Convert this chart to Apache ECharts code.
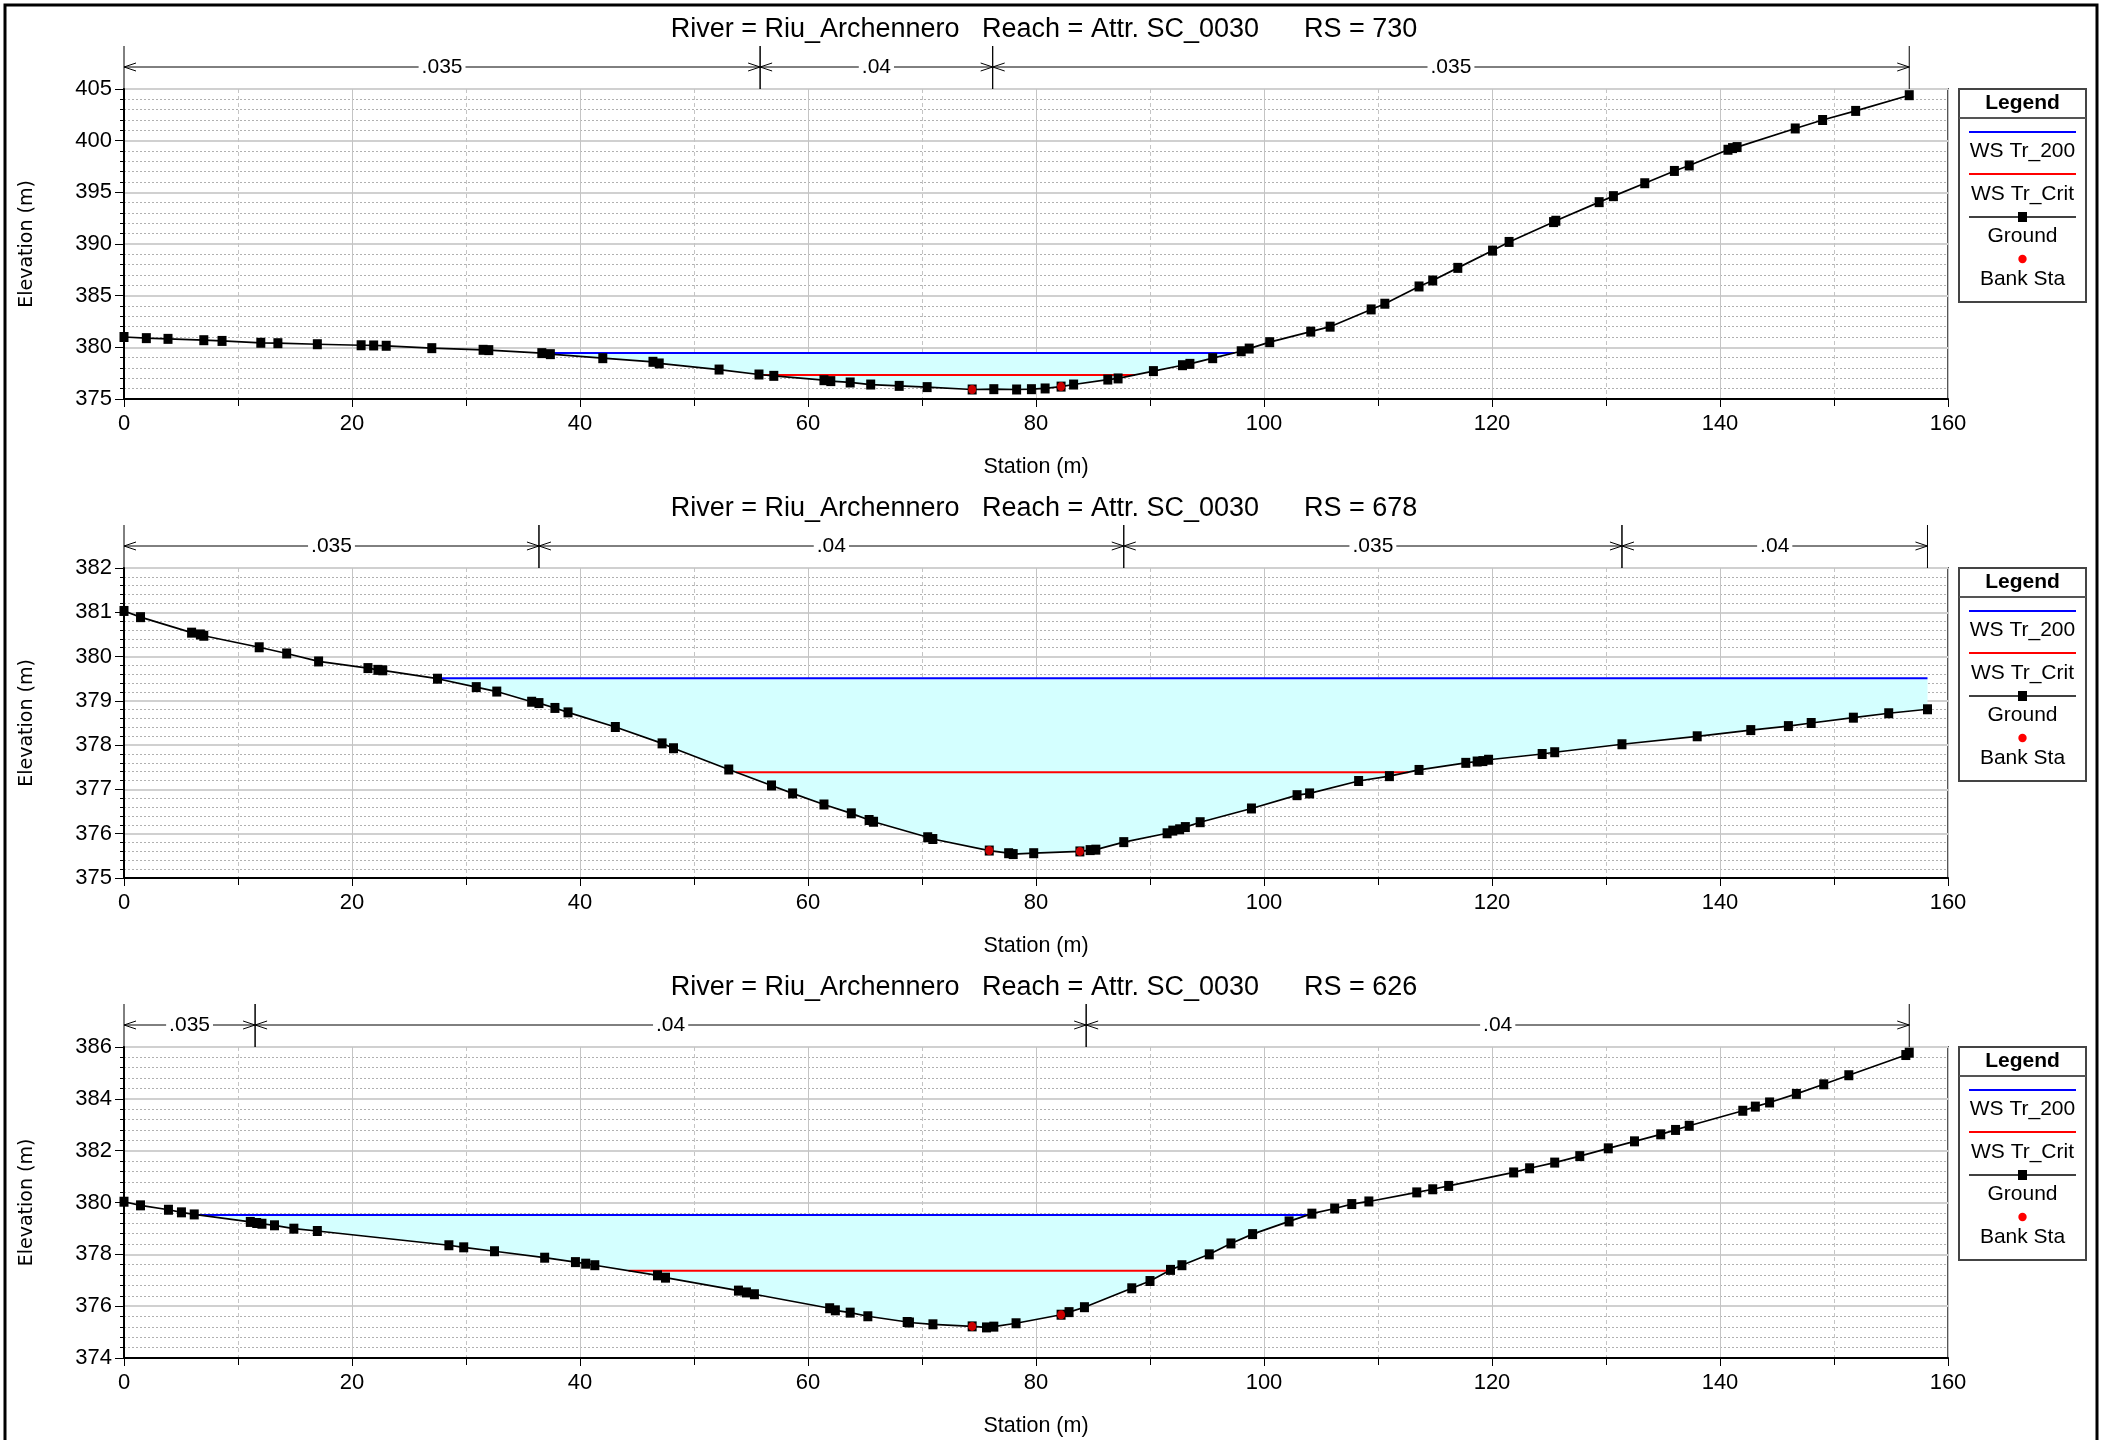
<!DOCTYPE html>
<html><head><meta charset="utf-8">
<script src="https://cdn.jsdelivr.net/npm/echarts@6/dist/echarts.min.js"></script>
<style>html,body{margin:0;padding:0;background:#fff}#c{width:2112px;height:1440px}</style>
</head><body><div id="c"></div><script>
// ---------- DATA ----------
const chartTitles = [
  'River = Riu_Archennero   Reach = Attr. SC_0030      RS = 730',
  'River = Riu_Archennero   Reach = Attr. SC_0030      RS = 678',
  'River = Riu_Archennero   Reach = Attr. SC_0030      RS = 626'
];
const xTicks = { min: 0, max: 160, interval: 20 };
const yRanges = [
  { min: 375, max: 405, interval: 5 },
  { min: 375, max: 382, interval: 1 },
  { min: 374, max: 386, interval: 2 }
];

const ground1Sta = [0,1.96,3.86,7.0,8.6,12.0,13.5,16.96,20.8,21.9,23.0,27.0,31.5,32.0,36.65,37.4,42.0,46.4,46.95,52.2,55.7,57.0,61.4,62.0,63.7,65.5,68.0,70.45,74.4,76.3,78.3,79.6,80.8,82.2,83.3,86.3,87.2,90.3,92.85,93.5,95.5,98.0,98.7,100.5,104.1,105.8,109.4,110.6,113.6,114.8,117.0,120.05,121.5,125.4,125.6,129.4,130.65,133.4,136.0,137.3,140.7,141.1,141.5,146.6,149.0,151.9,156.6];
const ground1Elev = [381.0,380.89,380.82,380.69,380.62,380.44,380.4,380.3,380.2,380.18,380.15,379.92,379.76,379.73,379.44,379.34,378.95,378.6,378.44,377.85,377.37,377.24,376.82,376.73,376.6,376.4,376.27,376.15,375.92,375.95,375.92,375.95,376.02,376.2,376.4,376.88,376.99,377.7,378.27,378.4,378.95,379.62,379.88,380.5,381.52,382.0,383.67,384.22,385.89,386.47,387.69,389.36,390.2,392.12,392.25,394.05,394.63,395.88,397.07,397.6,399.12,399.28,399.38,401.18,402.0,402.88,404.4];

const ground2Sta = [0,1.45,5.93,6.7,7.0,11.86,14.27,17.07,21.4,22.27,22.7,27.5,30.9,32.7,35.76,36.4,37.8,38.95,43.1,47.2,48.2,53.05,56.8,58.65,61.4,63.8,65.36,65.75,70.5,70.95,75.9,77.6,78.0,79.8,83.85,84.75,85.25,87.7,91.5,92.0,92.6,93.1,94.4,98.9,102.9,104.0,108.3,111.0,113.6,117.7,118.7,119.2,119.7,124.4,125.5,131.4,138.0,142.7,146.0,148.0,151.7,154.8,158.2];
const ground2Elev = [381.03,380.89,380.54,380.5,380.47,380.21,380.07,379.89,379.74,379.7,379.69,379.5,379.31,379.21,378.98,378.95,378.84,378.74,378.41,378.04,377.93,377.45,377.09,376.91,376.66,376.46,376.31,376.27,375.92,375.88,375.62,375.56,375.54,375.56,375.6,375.63,375.64,375.81,376.01,376.07,376.1,376.15,376.26,376.57,376.87,376.91,377.19,377.3,377.44,377.6,377.63,377.64,377.67,377.8,377.84,378.02,378.2,378.34,378.43,378.5,378.62,378.72,378.81];

const ground3Sta = [0,1.45,3.9,5.04,6.16,11.08,11.64,12.1,13.2,14.9,16.96,28.5,29.8,32.5,36.9,39.6,40.5,41.3,46.8,47.5,53.9,54.6,55.3,61.9,62.4,63.7,65.25,68.7,68.9,70.96,74.4,75.66,76.3,78.25,82.2,82.9,84.25,88.4,90.0,91.8,92.8,95.2,97.1,99.0,102.2,104.2,106.2,107.7,109.2,113.4,114.8,116.2,121.9,123.3,125.5,127.7,130.2,132.5,134.8,136.1,137.3,142.0,143.1,144.35,146.7,149.1,151.3,156.3,156.6];
const ground3Elev = [380.03,379.89,379.72,379.62,379.54,379.25,379.21,379.18,379.12,378.99,378.9,378.35,378.27,378.12,377.87,377.7,377.64,377.58,377.19,377.1,376.6,376.53,376.46,375.92,375.84,375.75,375.61,375.39,375.37,375.3,375.22,375.18,375.21,375.34,375.67,375.77,375.96,376.69,376.97,377.4,377.58,378.0,378.42,378.78,379.27,379.57,379.77,379.94,380.04,380.39,380.51,380.64,381.16,381.32,381.54,381.79,382.09,382.36,382.63,382.8,382.96,383.54,383.7,383.86,384.19,384.56,384.91,385.69,385.78];

const wsTr200 = [379.46, 379.51, 379.52];
const wsTrCrit = [377.33, 377.39, 377.37];

const bankSta = [[74.4, 82.2], [75.9, 83.85], [74.4, 82.2]];
const bankElev = [[375.92, 376.2], [375.62, 375.6], [375.22, 375.67]];

const nBounds = [[0, 55.8, 76.2, 156.6], [0, 36.4, 87.7, 131.4, 158.2], [0, 11.5, 84.4, 156.6]];
const nValues = [['.035', '.04', '.035'], ['.035', '.04', '.035', '.04'], ['.035', '.04', '.04']];

const legendNames = ['WS Tr_200', 'WS Tr_Crit', 'Ground', 'Bank Sta'];

// ---------- LAYOUT / STYLE ----------
const FONT = '"Liberation Sans", Arial, Helvetica, sans-serif';
const FONT_Y = '"DejaVu Sans", Verdana, sans-serif';
const gridTops = [89, 568, 1047];
const gridHeights = [310, 310, 311];
const gridLeft = 124, gridWidth = 1824;
const FILL = '#d4ffff';

const grounds = [[ground1Sta, ground1Elev], [ground2Sta, ground2Elev], [ground3Sta, ground3Elev]];

function crossing(sta, elev, level) {
  let im = 0;
  for (let k = 1; k < elev.length; k++) if (elev[k] < elev[im]) im = k;
  let i = im; while (i > 0 && elev[i - 1] < level) i--;
  let j = im; while (j < elev.length - 1 && elev[j + 1] < level) j++;
  const xl = i > 0 ? sta[i - 1] + (level - elev[i - 1]) / (elev[i] - elev[i - 1]) * (sta[i] - sta[i - 1]) : sta[0];
  const xr = j < elev.length - 1 ? sta[j] + (level - elev[j]) / (elev[j + 1] - elev[j]) * (sta[j + 1] - sta[j]) : sta[sta.length - 1];
  return { i, j, xl, xr };
}
function waterPoly(sta, elev, ws) {
  const c = crossing(sta, elev, ws);
  const pts = [[c.xl, ws]];
  for (let k = c.i; k <= c.j; k++) pts.push([sta[k], elev[k]]);
  pts.push([c.xr, ws]);
  return pts;
}

const grid = [], xAxis = [], yAxis = [], series = [], graphic = [];

for (let g = 0; g < 3; g++) {
  const [sta, elev] = grounds[g];
  const yr = yRanges[g];
  grid.push({ left: gridLeft, top: gridTops[g], width: gridWidth, height: gridHeights[g],
    show: true, borderColor: '#555', borderWidth: 2, backgroundColor: '#fff' });
  xAxis.push({
    gridIndex: g, type: 'value', min: xTicks.min, max: xTicks.max, interval: xTicks.interval,
    name: 'Station (m)', nameLocation: 'middle', nameGap: 57,
    nameTextStyle: { fontFamily: FONT, fontSize: 21.5, color: '#000' },
    axisLine: { show: true, onZero: false, lineStyle: { color: '#000', width: 2 } },
    axisTick: { show: true, length: 8, lineStyle: { color: '#000', width: 1 } },
    minorTick: { show: true, splitNumber: 2, length: 7, lineStyle: { color: '#000', width: 1 } },
    axisLabel: { fontFamily: FONT, fontSize: 22, color: '#000', margin: 14 },
    splitLine: { show: true, lineStyle: { color: '#c4c4c4', width: 1 } },
    minorSplitLine: { show: true, lineStyle: { color: '#c4c4c4', width: 1, type: [4, 3] } }
  });
  yAxis.push({
    gridIndex: g, type: 'value', min: yr.min, max: yr.max, interval: yr.interval,
    name: 'Elevation (m)', nameLocation: 'middle', nameGap: 87, nameRotate: 90,
    nameTextStyle: { fontFamily: FONT_Y, fontSize: 19, color: '#000' },
    axisLine: { show: true, onZero: false, lineStyle: { color: '#000', width: 2 } },
    axisTick: { show: true, length: 9, lineStyle: { color: '#000', width: 1 } },
    minorTick: { show: true, splitNumber: 5, length: 4, lineStyle: { color: '#000', width: 1 } },
    axisLabel: { fontFamily: FONT, fontSize: 22, color: '#000', margin: 12 },
    splitLine: { show: true, lineStyle: { color: '#d0d0d0', width: 2 } },
    minorSplitLine: { show: true, lineStyle: { color: '#b0b0b0', width: 1, type: [2, 2] } }
  });

  // water fill
  const poly = waterPoly(sta, elev, wsTr200[g]);
  series.push({
    type: 'custom', xAxisIndex: g, yAxisIndex: g, silent: true, z: 1,
    data: [[poly[0][0], poly[0][1]]],
    renderItem: (params, api) => ({
      type: 'polygon',
      shape: { points: poly.map(p => api.coord(p)) },
      style: { fill: FILL, stroke: null }
    })
  });
  // WS Tr_200
  const cw = crossing(sta, elev, wsTr200[g]);
  series.push({ type: 'line', name: legendNames[0], xAxisIndex: g, yAxisIndex: g, z: 3, silent: true,
    symbol: 'none', data: [[cw.xl, wsTr200[g]], [cw.xr, wsTr200[g]]],
    lineStyle: { color: '#0000ff', width: 2 } });
  // WS Tr_Crit
  const cc = crossing(sta, elev, wsTrCrit[g]);
  series.push({ type: 'line', name: legendNames[1], xAxisIndex: g, yAxisIndex: g, z: 3, silent: true,
    symbol: 'none', data: [[cc.xl, wsTrCrit[g]], [cc.xr, wsTrCrit[g]]],
    lineStyle: { color: '#ff0000', width: 2 } });
  // Ground
  series.push({ type: 'line', name: legendNames[2], xAxisIndex: g, yAxisIndex: g, z: 4, silent: true,
    symbol: 'rect', symbolSize: [9, 10], showAllSymbol: true,
    data: sta.map((s, k) => [s, elev[k]]),
    itemStyle: { color: '#000' }, lineStyle: { color: '#000', width: 1.7 } });
  // Bank Sta
  series.push({ type: 'scatter', name: legendNames[3], xAxisIndex: g, yAxisIndex: g, z: 5, silent: true,
    symbol: 'circle', symbolSize: [8, 9],
    data: bankSta[g].map((s, k) => [s, bankElev[g][k]]),
    itemStyle: { color: '#ff0000' } });
  // Manning n annotation above plot
  const segs = [];
  for (let k = 0; k < nBounds[g].length - 1; k++) segs.push([nBounds[g][k], nBounds[g][k + 1], yr.max]);
  const labels = nValues[g];
  series.push({
    type: 'custom', xAxisIndex: g, yAxisIndex: g, silent: true, z: 6, clip: false,
    encode: { x: [0, 1], y: 2 },
    data: segs,
    renderItem: (params, api) => {
      const a = api.coord([api.value(0), api.value(2)]);
      const b = api.coord([api.value(1), api.value(2)]);
      const top = a[1], ly = top - 22, vt = top - 43;
      const st = { stroke: '#000', lineWidth: 1, fill: null };
      return { type: 'group', children: [
        { type: 'line', shape: { x1: a[0], y1: ly, x2: b[0], y2: ly }, style: st },
        { type: 'line', shape: { x1: a[0], y1: vt, x2: a[0], y2: top }, style: st },
        { type: 'line', shape: { x1: b[0], y1: vt, x2: b[0], y2: top }, style: st },
        { type: 'polyline', shape: { points: [[a[0] + 12, ly - 4], [a[0], ly], [a[0] + 12, ly + 4]] }, style: st },
        { type: 'polyline', shape: { points: [[b[0] - 12, ly - 4], [b[0], ly], [b[0] - 12, ly + 4]] }, style: st },
        { type: 'text', x: (a[0] + b[0]) / 2, y: ly,
          style: { text: labels[params.dataIndex], fill: '#000', font: '21px ' + FONT,
            align: 'center', verticalAlign: 'middle', textAlign: 'center', textVerticalAlign: 'middle',
            backgroundColor: '#fff', padding: [0, 3] } }
      ] };
    }
  });

  // title
  const T = gridTops[g];
  graphic.push({ type: 'text', x: 1044, y: T - 59, z: 10,
    style: { text: chartTitles[g], fill: '#000', font: '27px ' + FONT,
      align: 'center', verticalAlign: 'middle', textAlign: 'center', textVerticalAlign: 'middle' } });
  // legend box
  const LX = 1959, LW = 127, CX = LX + LW / 2;
  const txt = (t, y, bold) => ({ type: 'text', x: CX, y: T + y, z: 10,
    style: { text: t, fill: '#000', font: (bold ? 'bold ' : '') + '21px ' + FONT,
      align: 'center', verticalAlign: 'middle', textAlign: 'center', textVerticalAlign: 'middle' } });
  graphic.push({ type: 'rect', x: LX, y: T, shape: { width: LW, height: 213 }, z: 9,
    style: { fill: '#fff', stroke: '#444', lineWidth: 2 } });
  graphic.push(txt('Legend', 14, true));
  graphic.push({ type: 'line', shape: { x1: LX, y1: T + 29, x2: LX + LW, y2: T + 29 }, z: 10,
    style: { stroke: '#555', lineWidth: 2 } });
  graphic.push({ type: 'line', shape: { x1: LX + 10, y1: T + 43, x2: LX + LW - 10, y2: T + 43 }, z: 10,
    style: { stroke: '#0000ff', lineWidth: 2 } });
  graphic.push(txt(legendNames[0], 62));
  graphic.push({ type: 'line', shape: { x1: LX + 10, y1: T + 85, x2: LX + LW - 10, y2: T + 85 }, z: 10,
    style: { stroke: '#ff0000', lineWidth: 2 } });
  graphic.push(txt(legendNames[1], 105));
  graphic.push({ type: 'line', shape: { x1: LX + 10, y1: T + 128, x2: LX + LW - 10, y2: T + 128 }, z: 10,
    style: { stroke: '#000', lineWidth: 1.7 } });
  graphic.push({ type: 'rect', x: CX - 4.5, y: T + 123, shape: { width: 9, height: 10 }, z: 11,
    style: { fill: '#000' } });
  graphic.push(txt(legendNames[2], 147));
  graphic.push({ type: 'circle', x: CX, y: T + 170, shape: { r: 4.2 }, z: 11, style: { fill: '#ff0000' } });
  graphic.push(txt(legendNames[3], 190));
}
// outer frame
graphic.push({ type: 'rect', x: 5, y: 5, shape: { width: 2092, height: 1460 }, z: 20,
  style: { fill: null, stroke: '#000', lineWidth: 3 } });

const chart = echarts.init(document.getElementById('c'), null, { renderer: 'canvas' });
chart.setOption({ animation: false, backgroundColor: '#fff', grid, xAxis, yAxis, series, graphic });
</script></body></html>
